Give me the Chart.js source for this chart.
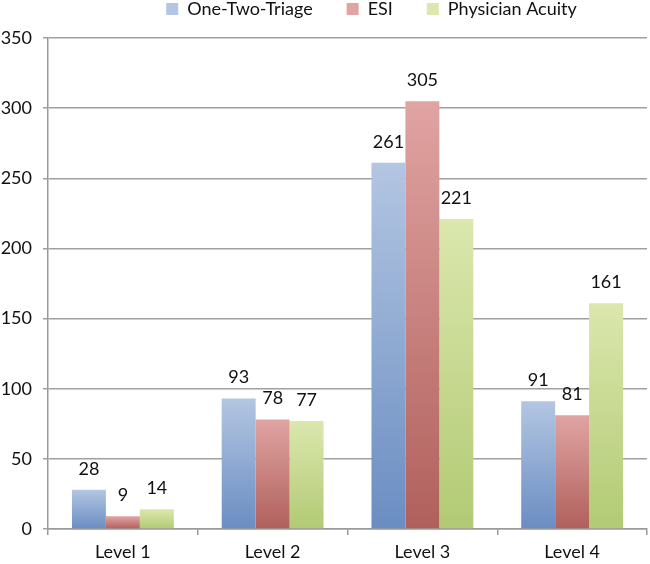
<!DOCTYPE html>
<html>
<head>
<meta charset="utf-8">
<script src="https://cdn.jsdelivr.net/npm/chart.js@4"></script>
<style>
  html, body { margin: 0; padding: 0; background: #fff; }
  #wrap { width: 650px; height: 564px; }
</style>
</head>
<body>
<div id="wrap"><canvas id="triageChart"></canvas></div>
<script>
  // Données
  const categories = ['Level 1', 'Level 2', 'Level 3', 'Level 4'];
  const oneTwoTriage = [28, 93, 261, 91];
  const esi = [9, 78, 305, 81];
  const physicianAcuity = [14, 77, 221, 161];

  const FONT = 'Lato, "Open Sans", sans-serif';

  // couleurs haut / bas de chaque barre
  const shades = {
      blue: ['#b3c6e2', '#6a8dc2'],
      red: ['#e0a4a2', '#b0605c'],
      green: ['#dbe7ad', '#b2ca74']
  };

  function barGradient(pair) {
      return function (ctx) {
          const chart = ctx.chart;
          if (!chart.chartArea || ctx.parsed === undefined) return pair[1];
          const y = chart.scales.y;
          const top = y.getPixelForValue(ctx.parsed.y);
          const bottom = y.getPixelForValue(0);
          if (!isFinite(top) || bottom - top < 1) return pair[1];
          const g = chart.ctx.createLinearGradient(0, top, 0, bottom);
          g.addColorStop(0, pair[0]);
          g.addColorStop(1, pair[1]);
          return g;
      };
  }

  // étiquettes de valeur au-dessus des barres
  const valueLabels = {
      id: 'valueLabels',
      afterDatasetsDraw(chart) {
          const c = chart.ctx;
          c.save();
          c.font = '18px ' + FONT;
          c.fillStyle = '#111';
          c.textAlign = 'center';
          c.textBaseline = 'bottom';
          chart.data.datasets.forEach((ds, i) => {
              chart.getDatasetMeta(i).data.forEach((bar, j) => {
                  c.fillText(ds.data[j], bar.x, bar.y - 12);
              });
          });
          c.restore();
      }
  };

  // légende : hauteur fixe et petit décalage comme sur l'original
  const legendTweak = {
      id: 'legendTweak',
      beforeInit(chart) {
          const lg = chart.legend;
          const fit = lg.fit;
          lg.fit = function () {
              fit.bind(lg)();
              this.height = 38;
          };
          lg.draw = function () {
              if (!this.options.display) return;
              const c = chart.ctx;
              c.save();
              c.translate(48, -34);
              this._draw();
              c.restore();
          };
      }
  };

  const ctx = document.getElementById('triageChart').getContext('2d');
  new Chart(ctx, {
      type: 'bar',
      data: {
          labels: categories,
          datasets: [
              { label: 'One-Two-Triage', data: oneTwoTriage, backgroundColor: barGradient(shades.blue) },
              { label: 'ESI', data: esi, backgroundColor: barGradient(shades.red) },
              { label: 'Physician Acuity', data: physicianAcuity, backgroundColor: barGradient(shades.green) }
          ]
      },
      options: {
          responsive: true,
          maintainAspectRatio: false,
          animation: false,
          datasets: {
              bar: { barPercentage: 1, categoryPercentage: 0.68 }
          },
          layout: { padding: { top: 0, right: 3, left: 0, bottom: 0 } },
          plugins: {
              legend: {
                  position: 'top',
                  labels: {
                      boxWidth: 12,
                      boxHeight: 12,
                      padding: 34,
                      color: '#111',
                      font: { family: FONT, size: 18 }
                  }
              },
              tooltip: { enabled: false }
          },
          scales: {
              x: {
                  grid: {
                      offset: true,
                      drawOnChartArea: false,
                      color: '#999',
                      tickLength: 6,
                      lineWidth: 1.5
                  },
                  border: { color: '#999', width: 1.5 },
                  ticks: {
                      color: '#111',
                      padding: 6,
                      font: { family: FONT, size: 18 }
                  },
                  afterFit(scale) { scale.height = 35; }
              },
              y: {
                  min: 0,
                  max: 350,
                  ticks: {
                      stepSize: 50,
                      color: '#111',
                      padding: 11,
                      font: { family: FONT, size: 18 }
                  },
                  grid: { color: '#a0a0a0', tickLength: 5, lineWidth: 1.5 },
                  border: { color: '#999', width: 1.5 },
                  afterFit(scale) { scale.width = 48; }
              }
          }
      },
      plugins: [legendTweak, valueLabels]
  });
</script>
</body>
</html>
